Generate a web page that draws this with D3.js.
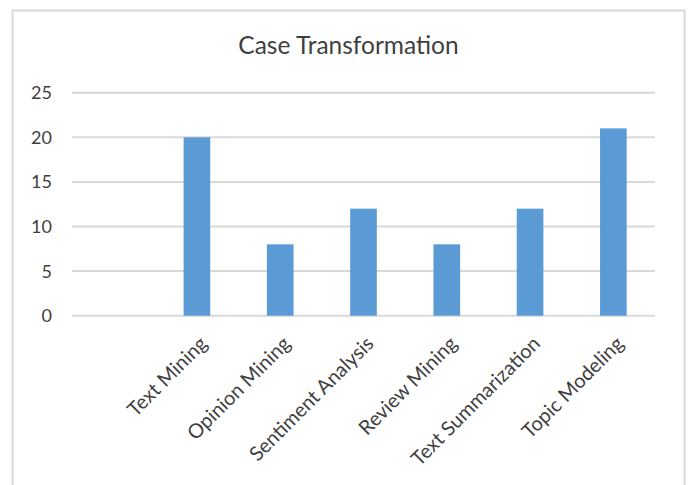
<!DOCTYPE html>
<html>
<head>
<meta charset="utf-8">
<script src="https://cdn.jsdelivr.net/npm/d3@7"></script>
<style>
  html, body { margin: 0; padding: 0; background: #fff; }
  svg text { font-family: Lato, "Open Sans", sans-serif; fill: #3f3f3f; }
</style>
</head>
<body>
<svg id="chart" width="690" height="485"></svg>
<script>
// chart data
var categories = ['', 'Text Mining', 'Opinion Mining', 'Sentiment Analysis', 'Review Mining', 'Text Summarization', 'Topic Modeling'];
var values = [null, 20, 8, 12, 8, 12, 21];
var yTicks = [0, 5, 10, 15, 20, 25];
var title = 'Case Transformation';

var svg = d3.select('#chart');

// outer chart frame, the bottom edge runs off the picture
svg.append('rect')
  .attr('x', 12.5)
  .attr('y', 10.5)
  .attr('width', 672)
  .attr('height', 500)
  .attr('fill', '#fff')
  .attr('stroke', '#d9d9d9')
  .attr('stroke-width', 2);

var plot = { left: 72, right: 655, top: 92.7, bottom: 315.7 };

var x = d3.scaleBand()
  .domain(categories)
  .range([plot.left, plot.right])
  .paddingInner(0.68)
  .paddingOuter(0.34);

var y = d3.scaleLinear()
  .domain([0, 25])
  .range([plot.bottom, plot.top]);

// gridlines
svg.append('g')
  .selectAll('line')
  .data(yTicks)
  .enter()
  .append('line')
  .attr('x1', plot.left)
  .attr('x2', plot.right)
  .attr('y1', function(d) { return y(d); })
  .attr('y2', function(d) { return y(d); })
  .attr('stroke', '#d9d9d9')
  .attr('stroke-width', 2);

// y tick labels
svg.append('g')
  .selectAll('text')
  .data(yTicks)
  .enter()
  .append('text')
  .attr('x', 52)
  .attr('y', function(d) { return y(d); })
  .attr('dy', '0.36em')
  .style('text-anchor', 'end')
  .style('font-size', '18px')
  .text(function(d) { return d; });

// bars (the first category is empty)
svg.append('g')
  .selectAll('rect')
  .data(categories.map(function(c, i) { return { cat: c, value: values[i] }; })
    .filter(function(d) { return d.value != null; }))
  .enter()
  .append('rect')
  .attr('x', function(d) { return x(d.cat); })
  .attr('y', function(d) { return y(d.value); })
  .attr('width', x.bandwidth())
  .attr('height', function(d) { return y(0) - y(d.value); })
  .attr('fill', '#5b9bd5');

// rotated category labels
svg.append('g')
  .selectAll('text')
  .data(categories.filter(function(c) { return c !== ''; }))
  .enter()
  .append('text')
  .attr('transform', function(d) {
    var cx = x(d) + x.bandwidth() / 2;
    return 'translate(' + (cx + 6.5) + ',' + 340 + ') rotate(-45)';
  })
  .attr('dy', '0.35em')
  .style('text-anchor', 'end')
  .style('font-size', '20px')
  .text(function(d) { return d; });

// title
svg.append('text')
  .attr('x', 348.5)
  .attr('y', 53.5)
  .style('text-anchor', 'middle')
  .style('font-size', '24.5px')
  .text(title);
</script>
</body>
</html>
